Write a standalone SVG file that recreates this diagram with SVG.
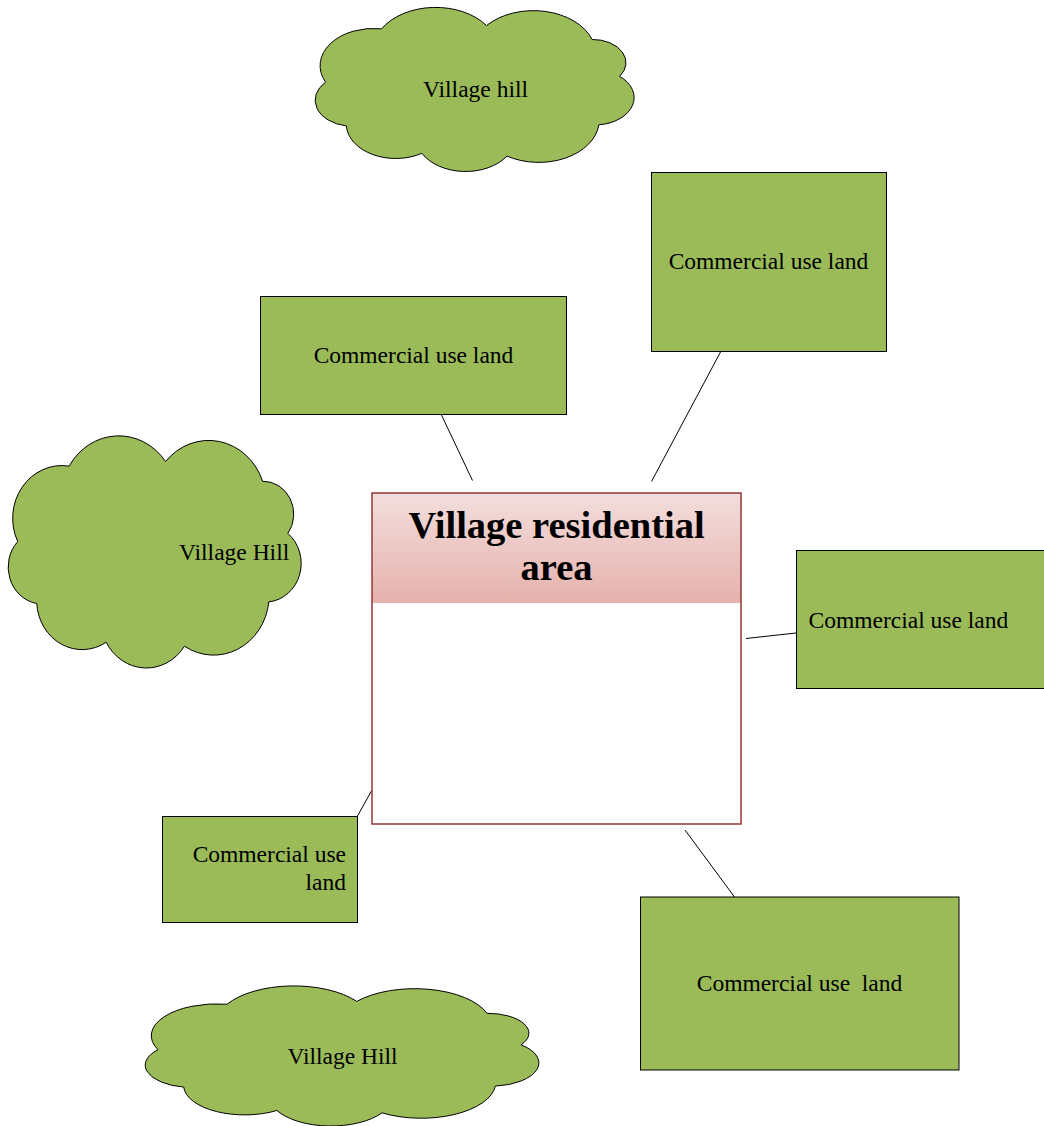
<svg xmlns="http://www.w3.org/2000/svg" xmlns:xlink="http://www.w3.org/1999/xlink" width="1044" height="1126" viewBox="0 0 1044 1126">
<style>
.g{fill:#9bbb59;stroke:#000;stroke-width:1}
.cl{fill:#9bbb59;stroke:#000;stroke-width:1;vector-effect:non-scaling-stroke}
.t{font-family:"Liberation Serif","Times New Roman",serif;font-size:23.5px;fill:#000}
.c{text-anchor:middle}
.ttl{font-family:"Liberation Serif","Times New Roman",serif;font-size:38.5px;font-weight:bold;fill:#000;text-anchor:middle}
.ln{stroke:#000;stroke-width:1;fill:none}
</style>
<defs>
<linearGradient id="hdr" x1="0" y1="0" x2="0" y2="1">
<stop offset="0" stop-color="#f3dedd"/>
<stop offset="1" stop-color="#e5b1ac"/>
</linearGradient>
<path id="cloud" class="cl" d="M3.3 45.5 A16.71 22.74 0 0 1 20.8 13 A19.64 26.72 0 0 1 53.6 11 A19.45 26.46 0 0 1 86.6 19.5 A10.42 14.17 0 0 1 95.2 42 A12.25 16.66 0 0 1 88.7 71.5 A18.87 25.68 0 0 1 60 90.6 A15.54 21.14 0 0 1 33.4 88.9 A15.46 21.03 0 0 1 9.8 72.2 A11.7 15.92 0 0 1 3.3 45.5 Z"/>
</defs>
<g id="connectors">
<line class="ln" x1="441" y1="414" x2="472.5" y2="480.5"/>
<line class="ln" x1="720.5" y1="352" x2="651.5" y2="481.5"/>
<line class="ln" x1="746" y1="638.5" x2="796" y2="633"/>
<line class="ln" x1="372" y1="790" x2="357.5" y2="816"/>
<line class="ln" x1="685" y1="830" x2="734.5" y2="897"/>
</g>
<g id="hill-top">
<use xlink:href="#cloud" href="#cloud" transform="translate(315,7.5) scale(3.2,1.64)"/>
<text class="t c" x="475.5" y="97">Village hill</text>
</g>
<g id="hill-left">
<use xlink:href="#cloud" href="#cloud" transform="translate(8,436) scale(2.94,2.32)"/>
<text class="t" x="179" y="559.5">Village Hill</text>
</g>
<g id="hill-bottom">
<use xlink:href="#cloud" href="#cloud" transform="translate(145,986) scale(3.95,1.4)"/>
<text class="t c" x="342.5" y="1063.5">Village Hill</text>
</g>
<g id="residential">
<rect x="372" y="493" width="369" height="331" fill="#fff"/>
<rect x="372" y="493" width="369" height="110" fill="url(#hdr)"/>
<rect x="372" y="493" width="369" height="331" fill="none" stroke="#953735" stroke-width="1.5"/>
<text class="ttl" x="556.5" y="537.5">Village residential</text>
<text class="ttl" x="556.5" y="579.5">area</text>
</g>
<g id="commercial-1">
<rect class="g" x="260.5" y="296.5" width="306" height="118"/>
<text class="t c" x="413.5" y="363">Commercial use land</text>
</g>
<g id="commercial-2">
<rect class="g" x="651.5" y="172.5" width="235" height="179"/>
<text class="t c" x="768.5" y="269">Commercial use land</text>
</g>
<g id="commercial-3">
<rect class="g" x="796.5" y="550.5" width="260" height="138"/>
<text class="t" x="808.5" y="627.5">Commercial use land</text>
</g>
<g id="commercial-4">
<rect class="g" x="162.5" y="816.5" width="195" height="106"/>
<text class="t" x="346" y="862" text-anchor="end">Commercial use</text>
<text class="t" x="346" y="890" text-anchor="end">land</text>
</g>
<g id="commercial-5">
<rect class="g" x="640.5" y="897" width="318.5" height="173"/>
<text class="t c" x="799.5" y="991" xml:space="preserve">Commercial use  land</text>
</g>
</svg>
